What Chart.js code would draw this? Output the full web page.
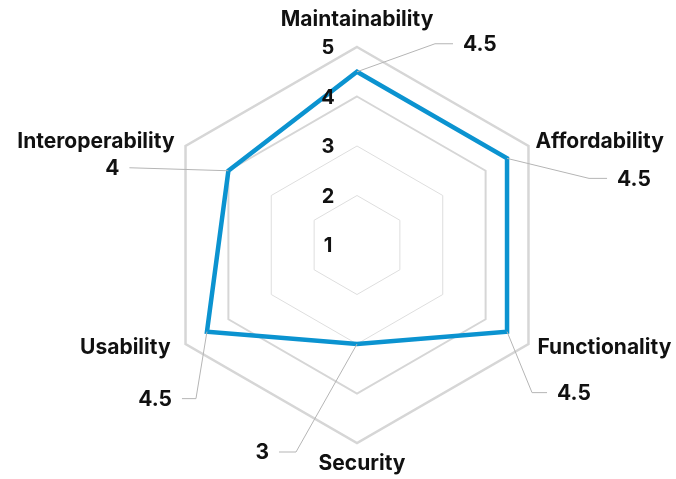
<!DOCTYPE html>
<html>
<head>
<meta charset="utf-8">
<script src="https://cdn.jsdelivr.net/npm/chart.js@4/dist/chart.umd.min.js"></script>
<style>
    html, body { margin: 0; padding: 0; background: #fff; }
    #wrap { width: 676px; height: 479px; position: relative; }
</style>
</head>
<body>
<div id="wrap"><canvas id="radar"></canvas></div>
<script>
const categories = ['Maintainability', 'Affordability', 'Functionality', 'Security', 'Usability', 'Interoperability'];
const scores = [4.5, 4.5, 4.5, 3, 4.5, 4];
const tickValues = [1, 2, 3, 4, 5];

const FONT = 'Inter, "Liberation Sans", Arial, sans-serif';

// where each category name sits relative to its outer vertex
const nameOffsets = [
    { dx: 0, dy: -27, align: 'center' },
    { dx: 7, dy: -4, align: 'left' },
    { dx: 9, dy: 4, align: 'left' },
    { dx: 5, dy: 21, align: 'center' },
    { dx: -15, dy: 4, align: 'right' },
    { dx: -11, dy: -4, align: 'right' }
];

// callout leader lines: elbow offset from the point, then horizontal run
const callouts = [
    { ex: 78, ey: -28, run: 18 },
    { ex: 82, ey: 20, run: 18 },
    { ex: 25, ey: 61, run: 15 },
    { ex: -61, ey: 108, run: -17 },
    { ex: -11, ey: 67, run: -14 },
    { ex: -99, ey: -3, run: 0 }
];

const labelPlugin = {
    id: 'labels',
    afterDatasetsDraw(chart) {
        const ctx = chart.ctx;
        const scale = chart.scales.r;
        const outer = scale.getDistanceFromCenterForValue(scale.max);
        ctx.save();

        // tick numbers, left of the vertical axis
        ctx.fillStyle = '#111';
        ctx.font = 'bold 20px ' + FONT;
        ctx.textAlign = 'center';
        ctx.textBaseline = 'middle';
        tickValues.forEach(v => {
            const d = scale.getDistanceFromCenterForValue(v);
            ctx.fillText(String(v), scale.xCenter - 29, scale.yCenter - d + 1);
        });

        // category names
        ctx.font = 'bold 21px ' + FONT;
        categories.forEach((name, i) => {
            const p = scale.getPointPosition(i, outer);
            const o = nameOffsets[i];
            ctx.textAlign = o.align;
            ctx.fillText(name, p.x + o.dx, p.y + o.dy);
        });

        // value callouts
        const meta = chart.getDatasetMeta(0);
        ctx.font = 'bold 21px ' + FONT;
        meta.data.forEach((pt, i) => {
            const c = callouts[i];
            const ex = pt.x + c.ex, ey = pt.y + c.ey;
            const endX = ex + c.run;
            ctx.strokeStyle = '#b5b5b5';
            ctx.lineWidth = 1;
            ctx.beginPath();
            ctx.moveTo(pt.x, pt.y);
            ctx.lineTo(ex, ey);
            ctx.lineTo(endX, ey);
            ctx.stroke();
            const right = c.ex > 0;
            ctx.textAlign = right ? 'left' : 'right';
            ctx.fillText(String(scores[i]), endX + (right ? 10 : -10), ey + 1);
        });
        ctx.restore();
    }
};

new Chart(document.getElementById('radar'), {
    type: 'radar',
    data: {
        labels: categories,
        datasets: [{
            data: scores,
            borderColor: '#0b93d0',
            borderWidth: 4.5,
            backgroundColor: 'rgba(0,0,0,0)',
            pointRadius: 0,
            pointHoverRadius: 0,
            borderJoinStyle: 'miter',
            fill: false
        }]
    },
    options: {
        responsive: true,
        maintainAspectRatio: false,
        animation: false,
        events: [],
        layout: { padding: { left: 159, right: 121, top: 47, bottom: 36 } },
        plugins: { legend: { display: false }, tooltip: { enabled: false } },
        scales: {
            r: {
                min: 1,
                max: 5,
                ticks: { display: false, stepSize: 1 },
                angleLines: { display: false },
                pointLabels: { display: false },
                grid: {
                    circular: false,
                    color: ctx => ctx.tick.value >= 4 ? '#d6d6d6' : '#dedede',
                    lineWidth: ctx => ctx.tick.value === 5 ? 2.5 : (ctx.tick.value === 4 ? 2 : 1)
                }
            }
        }
    },
    plugins: [labelPlugin]
});
</script>
</body>
</html>
